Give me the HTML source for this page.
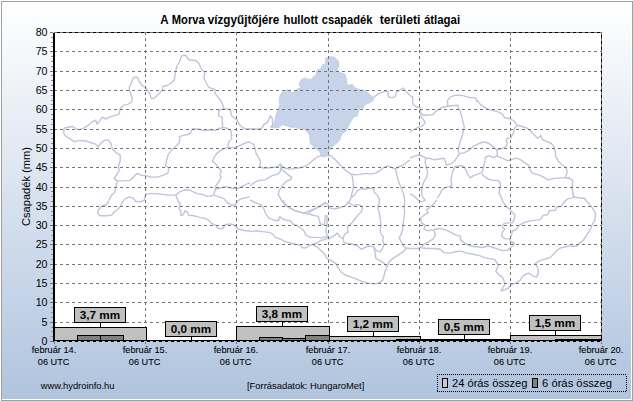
<!DOCTYPE html><html><head><meta charset="utf-8"><style>html,body{margin:0;padding:0;background:#fff}svg{display:block}text{font-family:"Liberation Sans",sans-serif;fill:#000}</style></head><body>
<svg width="633" height="401" viewBox="0 0 633 401">
<defs><linearGradient id="bg" x1="0" y1="0" x2="0" y2="1"><stop offset="0" stop-color="#ffffff"/><stop offset="1" stop-color="#b0c4de"/></linearGradient></defs>
<rect x="0" y="0" width="633" height="401" fill="#ffffff"/>
<rect x="1.5" y="1.5" width="631" height="399" fill="none" stroke="#a0a0a0" stroke-width="1"/>
<rect x="2" y="2" width="629" height="397" fill="url(#bg)"/>
<rect x="54" y="32" width="548" height="310" fill="#ffffff"/>
<polygon points="325.8,58.2 328.9,56.7 334.7,57.2 338,60.7 339,65.3 337.2,69.8 339.7,72.4 344.8,74.1 346.1,77.9 346.6,83.5 349.1,85.5 352.4,84.2 354.1,87.5 358.7,89.3 365,90.6 368.8,93.6 372.6,96.9 373.1,100.7 368.8,103.2 365,104.5 363.2,108.3 360,107.7 358.2,112 357.4,115.8 353.6,117.1 351.1,120.9 349.1,124.7 347.3,128.5 345.6,131.5 342.3,133.5 340.5,137.3 339.7,140.1 339,140 338,142 334.7,144.6 330.9,147.6 328.9,151.4 327.1,155.2 324.6,157.2 321.3,155.7 319.5,151.4 316.2,148.8 313.2,146.3 310.7,143.8 310.2,140 310.2,140.1 309.4,134.8 306.9,131.5 304.3,129 299.3,128.5 294.2,127.2 290.4,127.2 286.7,125.9 282.4,124.7 279.1,127.2 274,128 270.2,127.2 274,123.4 275.3,118.4 276.5,113.3 278.3,109.5 279.8,104.5 279.1,100.7 280.3,94.3 284.1,90.6 287.9,89.8 291.7,92.6 294.2,91.8 296.8,89.3 300.6,88 299.3,84.2 300.6,80.4 304.3,77.9 306.9,79.2 311.9,79.2 313.2,76.7 316.2,75.4 317,70.3 320.8,69.1 322,65.3 325.3,64 325.8,58.2" fill="#c6d3e8" stroke="#c6d0e4" stroke-width="1"/>
<g fill="none" stroke="#bfc5db" stroke-width="1.4" stroke-linejoin="round">
<polyline points="132.4,100 131.1,102.5 127.3,104.6 123.5,105.1 120.2,108.8 119.2,113.9 114.7,115.7 109.6,117.2 105.8,119 102,117.2 99.5,121.5 97,124 95.7,120.2 91.9,122.2 88.1,125.3 84.3,127.8 79.3,129.8 75.5,128.3 73,126.5 67.9,127.3 64.1,128.3 63.6,132.9 66.1,136.7 70.4,139.2 74.2,141.7 79.3,140.4 85.6,141 90.7,142.5 95.7,144.2 98.2,146.8 100.8,143 104.6,140.4 108.3,139.9 110.9,143.5 112.6,149.3 115.9,152.6 120.2,155.1 120.2,160.7 118.5,166.2 119.2,170.8 116.7,174.6 114.2,178.4 117.2,180.9 115.9,187.2 114.7,192.3 110.9,196.1 109.1,200.1"/>
<polyline points="117.2,180.9 123.5,180.9 129.8,180.4 133.6,177.1 137.4,173.3 141.2,175.3 146.3,175.8 151.3,177.1 157.6,177.1 162.7,175.3 167.8,173.3 169,167.7 165.2,166.2 166.5,160.7 168.3,154.3 171.5,150.1 175.3,146.8 179.1,143 179.9,137.9"/>
<polyline points="132.2,99.9 131.7,96.9 129.9,91.8 129.2,88 131.7,81.7 133.5,77.4 137.5,77.2 139.3,81.7 142.6,86 146.1,88 149.4,93.1 151.4,98.6 154.5,98.1 158.3,94.3 162,90.6 163.3,86.3 167.1,85.5 170.9,83 174.2,80.4 175.4,72.9 176.7,66.5 179.7,61.5 181.8,55.7 185.6,55.2 188.6,59.7 192.4,60.2 196.2,60.7 199.2,64 201.2,69.1 205,72.4 203.8,77.9 206.3,83 208.8,87.5 215.1,89.3 215.1,93.6 218.9,98.1 222,102.7 224,108.3"/>
<polyline points="224,108.3 218.9,110.3 218.4,115.8 222,117.1 222.7,127.2 227.8,128.5 231.1,131 231.6,140.1"/>
<polyline points="224,108.8 230.3,109.5 231.6,115.8 236.6,119.6 240.4,125.9 244.2,128.5 250,129"/>
<polyline points="178.5,137.3 182.3,135.6 189.8,134 192.4,129 198.7,129 203.8,130.5 211.3,129.7 215.1,130.5 218.9,128.5 222.7,127.7"/>
<polyline points="250,129 253.8,129 257.6,129 261.4,128.5 263.9,124.7 267.7,122.2 270.2,115.8 272.2,118.4 272.8,124.7 271.5,127.2"/>
<polyline points="373.1,98.6 375.1,96.1 378.9,93.6 382.7,91.8 387.8,91.1 388.5,96.9 391.6,97.6 395.3,96.9 396.6,91.8 399.1,90.6 402.9,88 405.5,90.6 408,93.6 410,95.6"/>
<polyline points="410,95.6 412.5,96.9 413,104.5 416.3,107 420.1,107.7 420.6,113.3 423.9,115.3 432.8,114.8 436.5,110.8 441.6,107.7 447.9,106.2 447.4,100.7 450.4,96.9 455.5,95.1 463.1,95.6 469.4,97.6 475.2,97.6 477,101.9"/>
<polyline points="447.9,106.2 458,105.2 458.5,108.3 460.6,112 461.8,117.1 463.1,122.2 464.3,127.2 463.1,132.3 461.8,137.3 460.6,140.1"/>
<polyline points="420.6,113.3 421.4,117.1 423.9,120.4 425.2,122.9 422.6,125.9 418.8,127.2 415.1,129 411.3,131 410,132.3"/>
<polyline points="109,200.7 106.4,204.5 101.4,206.2 98.8,209.5 97.6,213.3 100.1,215.8 105.2,215.8 111.5,215.3 114,212 117.8,209.5 120.3,206.2 122.4,201.9 125.4,198.6 129.2,196.9 133,198.1 135.5,201.2 140.6,201.9 144.3,200.2 145.6,194.3 149.4,193.6 155.7,193.6 160.8,194.3 168.4,195.1 175.9,195.1 179.7,191.8 184.8,189.8 189.8,190.1 193.6,191.8 197.4,193.6 202.5,194.3 206.3,196.1 211.3,196.1 213.9,194.3 215.1,190.6 215.9,185.5 218.9,181.7 220.9,177.9 220.2,174.1 221.4,170.8 218.9,168.3 216.4,164.8 212.6,161.5 213.9,157.7 216.4,153.9 220.2,150.6 224,148.8 227.8,147.1 229,141.3 230.5,140"/>
<polyline points="227.8,147.1 231.6,147.6 236.6,147.1 241.7,144.6 246.7,142.5 250,142"/>
<polyline points="215.1,189.3 220.2,188 224,186.8 229,187.5 234.1,188.5 239.1,188 244.2,185.5 248,183.5 250,183"/>
<polyline points="213.9,195.1 218.9,196.9 224,198.6 227.8,203.2 231.6,205.2 235.3,204.5 237.9,200.7 241.7,198.6 246.7,197.6 250,196.9"/>
<polyline points="175.9,195.6 178,200.7 180.5,204.5 179,208.3 180.5,210.8 181,215.3 183.5,214.6 184.8,210.8 187.3,212 188.6,215.3 193.6,215.8 198.7,217.1 205,218.4 208.8,220.4 211.3,223.4 216.4,225.4 217.7,228.5 222.7,228.5 225.2,224.7 230.3,223.9 235.3,225.4 237.9,229 244.2,230.5 250,231"/>
<polyline points="250,142.5 253.8,144.6 255.1,148.8 256.3,153.9 258.8,157.7 260.6,161.5 259.6,166.5 263.9,168.3 269,167.8 274,167.3 277.8,166.5 280.3,164 282.4,166.5 285.4,168.3 290.4,169.1 296.8,168.3 301.8,167.3 306.9,165.3 310.7,162.2 314.5,159 318.3,156.4 322,155.7"/>
<polyline points="280.3,165.3 281.6,169.1 284.1,171.6 287.4,174.1 291.7,177.4 290.4,179.9 286.7,181 284.1,183.5 281.6,186.8 279.1,190.6 278.3,194.3 280.3,198.1 282.4,201.9 285.4,205.2 289.2,207.7 294.2,210.3 299.3,212 304.3,213.3 308.1,213.8 311.9,210.8 317,207.7 322,205.2 325.8,202.7 328.4,205.2 330.4,208.3 334.7,208.8 339.7,207.7 344.8,206.2 347.3,203.2 349.8,200.7 351.1,196.9 352.4,191.8 353.6,186.8 353.1,181.7 352.4,176.7 351.1,174.1"/>
<polyline points="327.1,155.7 330.9,155.7 334.7,159 338.5,163.3 342.3,167.3 346.1,170.8 351.1,174.1 356.2,174.9 361.2,174.1 366.3,173.4 371.3,174.1 376.4,172.9 380.2,170.3 384,167.3 387.8,165.8 391.6,167.3 395.3,169.1 399.1,166.5 402.9,165.3 406.7,162.2 410,160.2"/>
<polyline points="395.3,169.1 396.6,174.1 397.9,179.2 399.6,184.2 401.7,189.3 403.7,194.3 404.7,200.7 404.2,207 404.7,213.3 403.7,219.6 402.9,225.9 402.7,229"/>
<polyline points="351.1,198.1 354.9,194.3 357.4,190.6 361.2,188.5 365,189.3 368.8,188 373.4,188.5 374.4,192.6 377.7,195.6 379.4,199.4 378.9,204.5 377.7,208.3 379.4,213.3 380.2,218.4 380.9,224.7 380.2,229.7 380.7,233.5"/>
<polyline points="250,185.5 253.8,183 258.8,180.4 265.2,179.9 269,177.4 272.8,175.4 277.8,174.1 280.3,171.6 280.8,167.8"/>
<polyline points="250,200 255.1,202.5 261.4,205.1 263.9,208.8 265.7,213.9 269,218.2 274,220.2 278.3,220.7 279.8,216.4 282.4,219 286.7,220.2 290.4,220.7 293,224 296.8,225.3 300.6,227.8 304.3,231.6 306.1,235.4 310.7,237.4 317,237.4 322,237.9 325.8,236.7 327.1,239.2"/>
<polyline points="308.1,213.9 313.2,215.2 318.3,216.4 320.3,224 324.6,224.8 325.3,215.7 327.1,215.7 327.1,224.8 325.8,230.3 327.1,235.4 328.4,239.2"/>
<polyline points="250,231.6 256.3,230.8 262.6,231.6 269,232.4 272.8,234.1 275.3,237.4 280.3,239.2 285.4,241.7 290.4,243 295.5,244.2 300.6,245 301.8,247.5 305.6,248 309.4,245.5 313.2,244.2 317,243 320.8,240.4 325.8,239.2"/>
<polyline points="313.2,245 317,246.8 320.8,250.6 324.6,254.3 327.1,258.6 332.2,261.2 335.9,263.7 338.5,268.3 341,272 346.1,275.3 351.1,277.1 356.2,278.9 361.2,281.4 367.5,282.9 373.9,283.9 378.9,282.9 382.7,280.4 384,275.8 385.2,270.8 387.8,265.7 389,261.9 392.8,258.6 396.6,256.1 400.4,253.6 404.2,250.6 406.7,248 410,248.5"/>
<polyline points="328.4,239.2 330.9,237.4 334.7,235.4 337.2,232.9 339.7,236.7 343,238.4 344,242.5 347.3,243.5 352.4,244.2 357.4,245.5 361.2,249.3 365,247.5 368.8,246 373.9,246.8 376.4,250.6 380.2,251.8 382.7,248 384,244.2"/>
<polyline points="373.9,247.5 375.1,253.1 375.9,258.6 380.2,260.7 384,263.2 386.5,266.2"/>
<polyline points="343,238.4 344.8,234.1 348.1,232.4 347.3,227.3 349.8,224.8 352.4,222.2 354.9,219 357.4,215.7 360.7,212.6 362.5,208.8 361.2,205.6 357.4,204.6 352.4,205.1 348.6,202.5 347.3,203.8"/>
<polyline points="380.9,234.1 383.5,236.7 382.7,240.4 384,244.2"/>
<polyline points="402.9,229.1 401.2,234.1 399.1,237.9 401.2,241.7 402.9,245.5 405.5,248"/>
<polyline points="460.6,140 459.3,145.1 458,150.1 459.3,153.9 456.8,157.7 454.2,161.5 450.4,164 446.7,165.3 444.1,158.2 439.1,159 434,159.7 429,158.2 425.7,158.2 425.2,162.8 426.4,167.8 427.7,172.9 426.4,177.9 423.9,181.7 422.1,186.8 421.4,191.8 422.6,196.9 425.2,200.2 422.6,201.9 418.8,200.7 415.1,196.9 411.3,194.3 410,193.6"/>
<polyline points="410,158.2 413.8,156.4 417.6,155.2 421.4,155.7 425.7,158.2"/>
<polyline points="459.3,153.9 464.3,152.6 469.4,150.1 473.2,146.3 478.3,143.8 483.3,142 488.4,143 493.4,147.1 497.2,150.1 501,148.8 504.8,147.6 507.3,143.8 506.1,140"/>
<polyline points="497.2,150.1 497.2,155.7 493.4,157.7 488.4,155.7 485.3,157.7 484.6,162.8 483.3,167.8 482,172.4 477.7,174.1 473.2,175.9 470.2,177.9 466.9,172.9 464.3,166.5 460.6,165.8 455.5,166.5 453,170.3 451.7,175.4 451,180.4 451.7,185.5 447.9,186.8 444.1,188 441.6,190.6 439.8,194.3 437.3,198.1"/>
<polyline points="482,174.1 484.6,176.7 488.4,179.2 493.4,180.4 498.5,180.4 500.5,184.2 499.7,189.3 499,193.1 501,196.9 503,201.9 506.1,206.2 509.8,209.5 512.4,212.8 514.9,214.6 514.1,219.6 512.4,222.9 507.3,222.9 503.5,223.9 502.3,227.2 504.8,229 502.3,232.3 501.5,236.1 504.8,238.6 509.8,239.1 511.1,236.1 512.4,231 516.2,229.7 518.7,225.9 522.5,223.4 527.5,221.4 533.9,220.4 540.2,219.6 542.7,215.8 547.8,214.6 549,210.8 555.3,210.3 556.6,207 561.7,206.2 564.2,201.9 568,198.6 570,198.6 574.1,197.1"/>
<polyline points="497.2,156.4 502.3,158.2 507.3,160.7 511.1,159.7 516.2,158.2 521.2,160.2 525,162.8 528.8,165.3 530.1,170.3 532.6,173.4 538.9,174.9 544,177.4 547.8,179.9 554.1,178.4 561.7,177.9 568,177.9 570,177.4"/>
<polyline points="476.8,100 480.6,104.6 485.6,108.1 490.7,110.1 497,111.4 502.1,113.9 504.6,117.7 510.9,119 514.7,121.5 517.2,125.3 522.3,126.5 527.3,128.3 531.1,131.6 534.9,135.4 537.5,138.4 540.7,135.4 542.5,139.9 547.6,141.7 551.4,143.5 553.9,146.8 555.2,151.8 555.9,156.9 558.9,161.9 562.7,165.2 566.5,168.3 567,173.3 565.3,177.1 570.3,178.9 572.8,180.9 572.1,187.2 572.8,193.5 574.1,197.3"/>
<polyline points="517.2,125.3 514.7,128.3 513.4,132.9 510.9,137.9 507.1,138.4 506.1,140.4"/>
<polyline points="572.1,186.3 572.8,192.6 574.1,197.2 579.2,197.7 584.2,198.2 587.3,202.2 590.5,205.3 593.8,209.8 595.6,214.1 594.8,220.4 591.8,225.5 590.5,229.3 588,233.1 585.5,236.9 583,240.7 579.2,243.2 576.6,246.2 572.8,246.2 570.1,246.2"/>
<polyline points="436.5,200 434,203.8 430.2,207.1 426.4,210.1 428.2,212.6 423.9,215.2 420.6,218.2 421.4,222.8 425.2,225.3 423.9,229.1 427.7,230.8 434,229.8 440.3,228.3 446.7,230.3 451.7,232.9 456.8,235.4 460.1,235.9 460.6,239.9 464.3,243 469.4,245.5 475.7,246.8 482,247.5 488.4,246 493.4,247.5 498.5,249.3 503.5,250.6 507.3,250.1 509.8,248 513.6,245.5 514.1,243 511.1,241.7"/>
<polyline points="434,230.3 435.3,235.4 432.8,239.2 429,241.7 425.2,243.5 421.4,246.8 417.6,248.5 412.5,248.5 410,248.5"/>
<polyline points="421.4,248 427.7,248.5 434,248.5 440.3,249.3 444.1,252.6 450.4,253.1 455.5,251.8 460.6,251.1 466.9,253.1 473.2,254.3 479.5,255.6 484.6,257.6 489.6,258.6 494.7,259.4 497.2,263.2 498,267 495.9,270.8 498.5,274.6 502.3,277.1 504,280.9 504.8,284.7 502.3,288.5 501,291 504.8,289.7 508.6,288 511.1,284.7 516.2,282.9 520,280.4 522.5,276.3 526.3,273.8 529.3,273.3 532.6,275.8 536.4,277.1 538.4,273.3 537.7,267.7 535.1,263.7 538.9,261.2 544,259.4 550.3,257.6 553.6,254.3 556.6,250.6 560.4,248 565.5,246.8 570,246"/>
<polyline points="509.8,238.7 511.1,242.5 514.1,244.2"/>
<polyline points="282.9,200 285.4,204.6 289.2,207.6 294.2,210.1 299.3,212.1 304.3,213.1 308.1,213.9"/>
<polyline points="304.3,213.1 309.4,210.6 314.5,208.8 319.5,206.3 323.3,203.8 325.8,202"/>
</g>
<g stroke="#747474" stroke-width="1" stroke-dasharray="3,3" shape-rendering="crispEdges">
<line x1="54" y1="341.5" x2="602" y2="341.5"/>
<line x1="54" y1="322.5" x2="602" y2="322.5"/>
<line x1="54" y1="302.5" x2="602" y2="302.5"/>
<line x1="54" y1="283.5" x2="602" y2="283.5"/>
<line x1="54" y1="264.5" x2="602" y2="264.5"/>
<line x1="54" y1="244.5" x2="602" y2="244.5"/>
<line x1="54" y1="225.5" x2="602" y2="225.5"/>
<line x1="54" y1="206.5" x2="602" y2="206.5"/>
<line x1="54" y1="187.5" x2="602" y2="187.5"/>
<line x1="54" y1="167.5" x2="602" y2="167.5"/>
<line x1="54" y1="148.5" x2="602" y2="148.5"/>
<line x1="54" y1="129.5" x2="602" y2="129.5"/>
<line x1="54" y1="109.5" x2="602" y2="109.5"/>
<line x1="54" y1="90.5" x2="602" y2="90.5"/>
<line x1="54" y1="71.5" x2="602" y2="71.5"/>
<line x1="54" y1="51.5" x2="602" y2="51.5"/>
<line x1="54" y1="32.5" x2="602" y2="32.5"/>
<line x1="145.5" y1="32" x2="145.5" y2="342"/>
<line x1="236.5" y1="32" x2="236.5" y2="342"/>
<line x1="328.5" y1="32" x2="328.5" y2="342"/>
<line x1="419.5" y1="32" x2="419.5" y2="342"/>
<line x1="510.5" y1="32" x2="510.5" y2="342"/>
<line x1="601.5" y1="32" x2="601.5" y2="342"/>
</g>
<g stroke="#000" stroke-width="1" stroke-dasharray="3,3" shape-rendering="crispEdges">
<line x1="57" y1="32.5" x2="602" y2="32.5"/>
<line x1="601.5" y1="35" x2="601.5" y2="342"/>
</g>
<g shape-rendering="crispEdges">
<rect x="54.5" y="327.5" width="92" height="14" fill="#c0c0c0" stroke="#000" stroke-width="1"/>
<rect x="236.5" y="326.5" width="93" height="15" fill="#c0c0c0" stroke="#000" stroke-width="1"/>
<rect x="328.5" y="336.5" width="92" height="5" fill="#c0c0c0" stroke="#000" stroke-width="1"/>
<rect x="419.5" y="339.5" width="92" height="2" fill="#c0c0c0" stroke="#000" stroke-width="1"/>
<rect x="510.5" y="335.5" width="91" height="6" fill="#c0c0c0" stroke="#000" stroke-width="1"/>
<rect x="77.5" y="335.5" width="23" height="6" fill="#808080" stroke="#000" stroke-width="1"/>
<rect x="100.5" y="335.5" width="23" height="6" fill="#808080" stroke="#000" stroke-width="1"/>
<rect x="259.5" y="337.5" width="23" height="4" fill="#808080" stroke="#000" stroke-width="1"/>
<rect x="282.5" y="338.5" width="23" height="3" fill="#808080" stroke="#000" stroke-width="1"/>
<rect x="305.5" y="335.5" width="24" height="6" fill="#808080" stroke="#000" stroke-width="1"/>
<rect x="396.5" y="339.5" width="24" height="2" fill="#808080" stroke="#000" stroke-width="1"/>
<rect x="555.5" y="339.5" width="23" height="2" fill="#808080" stroke="#000" stroke-width="1"/>
<rect x="578.5" y="339.5" width="23" height="2" fill="#808080" stroke="#000" stroke-width="1"/>
<rect x="53" y="33" width="2" height="309" fill="#000"/>
<rect x="53" y="340" width="549" height="1" fill="#000"/>
<rect x="54" y="341" width="548" height="1" fill="#bcc8da"/>
<line x1="57" y1="341.5" x2="602" y2="341.5" stroke="#000" stroke-width="1" stroke-dasharray="3,3"/>
<rect x="50" y="341" width="3" height="1" fill="#747474"/>
<rect x="50" y="322" width="3" height="1" fill="#747474"/>
<rect x="50" y="302" width="3" height="1" fill="#747474"/>
<rect x="50" y="283" width="3" height="1" fill="#747474"/>
<rect x="50" y="264" width="3" height="1" fill="#747474"/>
<rect x="50" y="244" width="3" height="1" fill="#747474"/>
<rect x="50" y="225" width="3" height="1" fill="#747474"/>
<rect x="50" y="206" width="3" height="1" fill="#747474"/>
<rect x="50" y="187" width="3" height="1" fill="#747474"/>
<rect x="50" y="167" width="3" height="1" fill="#747474"/>
<rect x="50" y="148" width="3" height="1" fill="#747474"/>
<rect x="50" y="129" width="3" height="1" fill="#747474"/>
<rect x="50" y="109" width="3" height="1" fill="#747474"/>
<rect x="50" y="90" width="3" height="1" fill="#747474"/>
<rect x="50" y="71" width="3" height="1" fill="#747474"/>
<rect x="50" y="51" width="3" height="1" fill="#747474"/>
<rect x="50" y="32" width="3" height="1" fill="#747474"/>
<rect x="51" y="336" width="2" height="1" fill="#8c8c8c"/>
<rect x="51" y="331" width="2" height="1" fill="#8c8c8c"/>
<rect x="51" y="327" width="2" height="1" fill="#8c8c8c"/>
<rect x="51" y="317" width="2" height="1" fill="#8c8c8c"/>
<rect x="51" y="312" width="2" height="1" fill="#8c8c8c"/>
<rect x="51" y="307" width="2" height="1" fill="#8c8c8c"/>
<rect x="51" y="298" width="2" height="1" fill="#8c8c8c"/>
<rect x="51" y="293" width="2" height="1" fill="#8c8c8c"/>
<rect x="51" y="288" width="2" height="1" fill="#8c8c8c"/>
<rect x="51" y="278" width="2" height="1" fill="#8c8c8c"/>
<rect x="51" y="273" width="2" height="1" fill="#8c8c8c"/>
<rect x="51" y="269" width="2" height="1" fill="#8c8c8c"/>
<rect x="51" y="259" width="2" height="1" fill="#8c8c8c"/>
<rect x="51" y="254" width="2" height="1" fill="#8c8c8c"/>
<rect x="51" y="249" width="2" height="1" fill="#8c8c8c"/>
<rect x="51" y="240" width="2" height="1" fill="#8c8c8c"/>
<rect x="51" y="235" width="2" height="1" fill="#8c8c8c"/>
<rect x="51" y="230" width="2" height="1" fill="#8c8c8c"/>
<rect x="51" y="220" width="2" height="1" fill="#8c8c8c"/>
<rect x="51" y="215" width="2" height="1" fill="#8c8c8c"/>
<rect x="51" y="211" width="2" height="1" fill="#8c8c8c"/>
<rect x="51" y="201" width="2" height="1" fill="#8c8c8c"/>
<rect x="51" y="196" width="2" height="1" fill="#8c8c8c"/>
<rect x="51" y="191" width="2" height="1" fill="#8c8c8c"/>
<rect x="51" y="182" width="2" height="1" fill="#8c8c8c"/>
<rect x="51" y="177" width="2" height="1" fill="#8c8c8c"/>
<rect x="51" y="172" width="2" height="1" fill="#8c8c8c"/>
<rect x="51" y="162" width="2" height="1" fill="#8c8c8c"/>
<rect x="51" y="158" width="2" height="1" fill="#8c8c8c"/>
<rect x="51" y="153" width="2" height="1" fill="#8c8c8c"/>
<rect x="51" y="143" width="2" height="1" fill="#8c8c8c"/>
<rect x="51" y="138" width="2" height="1" fill="#8c8c8c"/>
<rect x="51" y="133" width="2" height="1" fill="#8c8c8c"/>
<rect x="51" y="124" width="2" height="1" fill="#8c8c8c"/>
<rect x="51" y="119" width="2" height="1" fill="#8c8c8c"/>
<rect x="51" y="114" width="2" height="1" fill="#8c8c8c"/>
<rect x="51" y="104" width="2" height="1" fill="#8c8c8c"/>
<rect x="51" y="100" width="2" height="1" fill="#8c8c8c"/>
<rect x="51" y="95" width="2" height="1" fill="#8c8c8c"/>
<rect x="51" y="85" width="2" height="1" fill="#8c8c8c"/>
<rect x="51" y="80" width="2" height="1" fill="#8c8c8c"/>
<rect x="51" y="75" width="2" height="1" fill="#8c8c8c"/>
<rect x="51" y="66" width="2" height="1" fill="#8c8c8c"/>
<rect x="51" y="61" width="2" height="1" fill="#8c8c8c"/>
<rect x="51" y="56" width="2" height="1" fill="#8c8c8c"/>
<rect x="51" y="46" width="2" height="1" fill="#8c8c8c"/>
<rect x="51" y="42" width="2" height="1" fill="#8c8c8c"/>
<rect x="51" y="37" width="2" height="1" fill="#8c8c8c"/>
<rect x="54" y="342" width="1" height="2" fill="#747474"/>
<rect x="145" y="342" width="1" height="2" fill="#747474"/>
<rect x="236" y="342" width="1" height="2" fill="#747474"/>
<rect x="328" y="342" width="1" height="2" fill="#747474"/>
<rect x="419" y="342" width="1" height="2" fill="#747474"/>
<rect x="510" y="342" width="1" height="2" fill="#747474"/>
<rect x="601" y="342" width="1" height="2" fill="#747474"/>
</g>
<text x="47.5" y="345" font-size="10.67" text-anchor="end">0</text>
<text x="47.5" y="326" font-size="10.67" text-anchor="end">5</text>
<text x="47.5" y="306" font-size="10.67" text-anchor="end">10</text>
<text x="47.5" y="287" font-size="10.67" text-anchor="end">15</text>
<text x="47.5" y="268" font-size="10.67" text-anchor="end">20</text>
<text x="47.5" y="248" font-size="10.67" text-anchor="end">25</text>
<text x="47.5" y="229" font-size="10.67" text-anchor="end">30</text>
<text x="47.5" y="210" font-size="10.67" text-anchor="end">35</text>
<text x="47.5" y="191" font-size="10.67" text-anchor="end">40</text>
<text x="47.5" y="171" font-size="10.67" text-anchor="end">45</text>
<text x="47.5" y="152" font-size="10.67" text-anchor="end">50</text>
<text x="47.5" y="133" font-size="10.67" text-anchor="end">55</text>
<text x="47.5" y="113" font-size="10.67" text-anchor="end">60</text>
<text x="47.5" y="94" font-size="10.67" text-anchor="end">65</text>
<text x="47.5" y="75" font-size="10.67" text-anchor="end">70</text>
<text x="47.5" y="55" font-size="10.67" text-anchor="end">75</text>
<text x="47.5" y="36" font-size="10.67" text-anchor="end">80</text>
<text transform="translate(30,186.5) rotate(-90)" font-size="11" text-anchor="middle" textLength="79" lengthAdjust="spacingAndGlyphs">Csapadék (mm)</text>
<text x="54" y="353" font-size="9.5" stroke="#000" stroke-width="0.08" text-anchor="middle" textLength="44.5" lengthAdjust="spacingAndGlyphs">február 14.</text>
<text x="53.6" y="365" font-size="9.6" stroke="#000" stroke-width="0.08" text-anchor="middle" textLength="31.6" lengthAdjust="spacingAndGlyphs">06 UTC</text>
<text x="145" y="353" font-size="9.5" stroke="#000" stroke-width="0.08" text-anchor="middle" textLength="44.5" lengthAdjust="spacingAndGlyphs">február 15.</text>
<text x="144.6" y="365" font-size="9.6" stroke="#000" stroke-width="0.08" text-anchor="middle" textLength="31.6" lengthAdjust="spacingAndGlyphs">06 UTC</text>
<text x="236" y="353" font-size="9.5" stroke="#000" stroke-width="0.08" text-anchor="middle" textLength="44.5" lengthAdjust="spacingAndGlyphs">február 16.</text>
<text x="235.6" y="365" font-size="9.6" stroke="#000" stroke-width="0.08" text-anchor="middle" textLength="31.6" lengthAdjust="spacingAndGlyphs">06 UTC</text>
<text x="328" y="353" font-size="9.5" stroke="#000" stroke-width="0.08" text-anchor="middle" textLength="44.5" lengthAdjust="spacingAndGlyphs">február 17.</text>
<text x="327.6" y="365" font-size="9.6" stroke="#000" stroke-width="0.08" text-anchor="middle" textLength="31.6" lengthAdjust="spacingAndGlyphs">06 UTC</text>
<text x="419" y="353" font-size="9.5" stroke="#000" stroke-width="0.08" text-anchor="middle" textLength="44.5" lengthAdjust="spacingAndGlyphs">február 18.</text>
<text x="418.6" y="365" font-size="9.6" stroke="#000" stroke-width="0.08" text-anchor="middle" textLength="31.6" lengthAdjust="spacingAndGlyphs">06 UTC</text>
<text x="510" y="353" font-size="9.5" stroke="#000" stroke-width="0.08" text-anchor="middle" textLength="44.5" lengthAdjust="spacingAndGlyphs">február 19.</text>
<text x="509.6" y="365" font-size="9.6" stroke="#000" stroke-width="0.08" text-anchor="middle" textLength="31.6" lengthAdjust="spacingAndGlyphs">06 UTC</text>
<text x="601" y="353" font-size="9.5" stroke="#000" stroke-width="0.08" text-anchor="middle" textLength="44.5" lengthAdjust="spacingAndGlyphs">február 20.</text>
<text x="600.6" y="365" font-size="9.6" stroke="#000" stroke-width="0.08" text-anchor="middle" textLength="31.6" lengthAdjust="spacingAndGlyphs">06 UTC</text>
<text x="160.2" y="23.5" font-size="12" font-weight="bold" textLength="8.3" lengthAdjust="spacingAndGlyphs">A</text>
<text x="171.8" y="23.5" font-size="12" font-weight="bold" textLength="32.9" lengthAdjust="spacingAndGlyphs">Morva</text>
<text x="207.7" y="23.5" font-size="12" font-weight="bold" textLength="71.6" lengthAdjust="spacingAndGlyphs">vízgyűjtőjére</text>
<text x="283.5" y="23.5" font-size="12" font-weight="bold" textLength="34.5" lengthAdjust="spacingAndGlyphs">hullott</text>
<text x="321.8" y="23.5" font-size="12" font-weight="bold" textLength="50.6" lengthAdjust="spacingAndGlyphs">csapadék</text>
<text x="379.7" y="23.5" font-size="12" font-weight="bold" textLength="40.7" lengthAdjust="spacingAndGlyphs">területi</text>
<text x="423.9" y="23.5" font-size="12" font-weight="bold" textLength="36.2" lengthAdjust="spacingAndGlyphs">átlagai</text>
<line x1="100.5" y1="322" x2="100.5" y2="327" stroke="#000" stroke-width="1" shape-rendering="crispEdges"/>
<rect x="74.5" y="307.5" width="51" height="15" fill="#c0c0c0" stroke="#000" stroke-width="1" shape-rendering="crispEdges"/>
<text x="100" y="319" font-size="11.7" font-weight="bold" text-anchor="middle">3,7 mm</text>
<line x1="191.5" y1="336" x2="191.5" y2="341" stroke="#000" stroke-width="1" shape-rendering="crispEdges"/>
<rect x="165.5" y="321.5" width="51" height="15" fill="#c0c0c0" stroke="#000" stroke-width="1" shape-rendering="crispEdges"/>
<text x="191" y="333" font-size="11.7" font-weight="bold" text-anchor="middle">0,0 mm</text>
<line x1="282.5" y1="321" x2="282.5" y2="326" stroke="#000" stroke-width="1" shape-rendering="crispEdges"/>
<rect x="256.5" y="306.5" width="51" height="15" fill="#c0c0c0" stroke="#000" stroke-width="1" shape-rendering="crispEdges"/>
<text x="282" y="318" font-size="11.7" font-weight="bold" text-anchor="middle">3,8 mm</text>
<line x1="373.5" y1="331" x2="373.5" y2="336" stroke="#000" stroke-width="1" shape-rendering="crispEdges"/>
<rect x="347.5" y="316.5" width="51" height="15" fill="#c0c0c0" stroke="#000" stroke-width="1" shape-rendering="crispEdges"/>
<text x="373" y="328" font-size="11.7" font-weight="bold" text-anchor="middle">1,2 mm</text>
<line x1="464.5" y1="334" x2="464.5" y2="339" stroke="#000" stroke-width="1" shape-rendering="crispEdges"/>
<rect x="438.5" y="319.5" width="51" height="15" fill="#c0c0c0" stroke="#000" stroke-width="1" shape-rendering="crispEdges"/>
<text x="464" y="331" font-size="11.7" font-weight="bold" text-anchor="middle">0,5 mm</text>
<line x1="555.5" y1="330" x2="555.5" y2="335" stroke="#000" stroke-width="1" shape-rendering="crispEdges"/>
<rect x="529.5" y="315.5" width="51" height="15" fill="#c0c0c0" stroke="#000" stroke-width="1" shape-rendering="crispEdges"/>
<text x="555" y="327" font-size="11.7" font-weight="bold" text-anchor="middle">1,5 mm</text>
<text x="40.7" y="388.7" font-size="9.2" textLength="73.8" lengthAdjust="spacingAndGlyphs">www.hydroinfo.hu</text>
<text x="247" y="389.1" font-size="9.2" textLength="117.3" lengthAdjust="spacingAndGlyphs">[Forrásadatok: HungaroMet]</text>
<g stroke="#000" stroke-width="1" stroke-dasharray="1,1" shape-rendering="crispEdges"><line x1="437" y1="374.5" x2="627" y2="374.5"/><line x1="437" y1="391.5" x2="627" y2="391.5"/><line x1="437.5" y1="376" x2="437.5" y2="391"/><line x1="626.5" y1="376" x2="626.5" y2="391"/></g>
<rect x="442.5" y="378.5" width="5" height="9" fill="#cacaca" stroke="#000" stroke-width="1" shape-rendering="crispEdges"/>
<text x="452" y="386.7" font-size="11" textLength="75.5" lengthAdjust="spacingAndGlyphs">24 órás összeg</text>
<rect x="532.5" y="378.5" width="5" height="9" fill="#808080" stroke="#000" stroke-width="1" shape-rendering="crispEdges"/>
<text x="542" y="386.7" font-size="11" textLength="70" lengthAdjust="spacingAndGlyphs">6 órás összeg</text>
</svg></body></html>
